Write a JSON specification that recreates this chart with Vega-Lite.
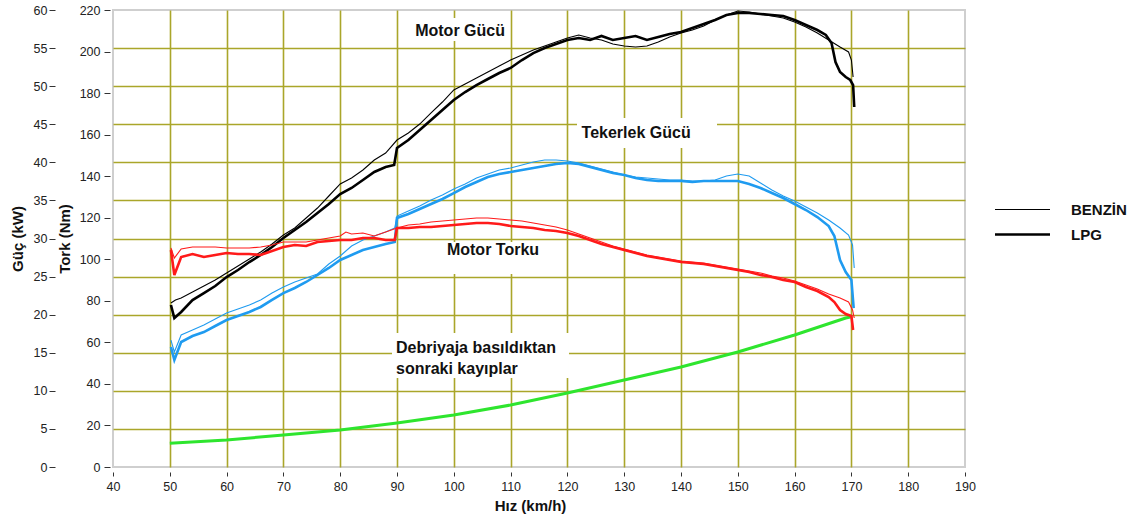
{
 "$schema": "https://vega.github.io/schema/vega-lite/v6.json",
 "width": 852,
 "height": 457,
 "autosize": {"type": "none"},
 "padding": {"left": 113, "top": 10, "right": 172, "bottom": 53},
 "background": "white",
 "config": {
  "font": "Liberation Sans",
  "view": {"stroke": "#cfcfcf", "strokeWidth": 2},
  "axis": {
   "labelFont": "Liberation Sans", "labelFontSize": 12.5, "labelColor": "#222",
   "tickColor": "#333", "tickWidth": 1,
   "titleFont": "Liberation Sans", "titleFontWeight": "bold", "titleFontSize": 15, "titleColor": "#111",
   "domain": false, "gridColor": "#aaa62a", "gridWidth": 1.6
  }
 },
 "datasets": {
  "guc": [
   {"v":50.2,"kW":21.27,"egri":"Motor Gücü","yakit":"LPG"},{"v":50.8,"kW":19.56,"egri":"Motor Gücü","yakit":"LPG"},{"v":52,"kW":20.35,"egri":"Motor Gücü","yakit":"LPG"},{"v":54,"kW":21.92,"egri":"Motor Gücü","yakit":"LPG"},{"v":56,"kW":22.84,"egri":"Motor Gücü","yakit":"LPG"},{"v":58,"kW":23.76,"egri":"Motor Gücü","yakit":"LPG"},{"v":60,"kW":24.94,"egri":"Motor Gücü","yakit":"LPG"},{"v":62,"kW":25.86,"egri":"Motor Gücü","yakit":"LPG"},{"v":64,"kW":26.91,"egri":"Motor Gücü","yakit":"LPG"},{"v":66,"kW":27.83,"egri":"Motor Gücü","yakit":"LPG"},{"v":68,"kW":28.88,"egri":"Motor Gücü","yakit":"LPG"},{"v":70,"kW":30.07,"egri":"Motor Gücü","yakit":"LPG"},{"v":72,"kW":31.12,"egri":"Motor Gücü","yakit":"LPG"},{"v":74,"kW":32.17,"egri":"Motor Gücü","yakit":"LPG"},{"v":76,"kW":33.35,"egri":"Motor Gücü","yakit":"LPG"},{"v":78,"kW":34.53,"egri":"Motor Gücü","yakit":"LPG"},{"v":80,"kW":35.84,"egri":"Motor Gücü","yakit":"LPG"},{"v":82,"kW":36.63,"egri":"Motor Gücü","yakit":"LPG"},{"v":84,"kW":37.68,"egri":"Motor Gücü","yakit":"LPG"},{"v":86,"kW":38.73,"egri":"Motor Gücü","yakit":"LPG"},{"v":88,"kW":39.39,"egri":"Motor Gücü","yakit":"LPG"},{"v":89.5,"kW":39.65,"egri":"Motor Gücü","yakit":"LPG"},{"v":90,"kW":41.88,"egri":"Motor Gücü","yakit":"LPG"},{"v":92,"kW":42.93,"egri":"Motor Gücü","yakit":"LPG"},{"v":94,"kW":44.25,"egri":"Motor Gücü","yakit":"LPG"},{"v":96,"kW":45.56,"egri":"Motor Gücü","yakit":"LPG"},{"v":98,"kW":46.87,"egri":"Motor Gücü","yakit":"LPG"},{"v":100,"kW":48.18,"egri":"Motor Gücü","yakit":"LPG"},{"v":102,"kW":49.23,"egri":"Motor Gücü","yakit":"LPG"},{"v":104,"kW":50.15,"egri":"Motor Gücü","yakit":"LPG"},{"v":106,"kW":50.94,"egri":"Motor Gücü","yakit":"LPG"},{"v":108,"kW":51.73,"egri":"Motor Gücü","yakit":"LPG"},{"v":110,"kW":52.39,"egri":"Motor Gücü","yakit":"LPG"},{"v":112,"kW":53.43,"egri":"Motor Gücü","yakit":"LPG"},{"v":114,"kW":54.35,"egri":"Motor Gücü","yakit":"LPG"},{"v":116,"kW":55.01,"egri":"Motor Gücü","yakit":"LPG"},{"v":118,"kW":55.53,"egri":"Motor Gücü","yakit":"LPG"},{"v":120,"kW":56.06,"egri":"Motor Gücü","yakit":"LPG"},{"v":122,"kW":56.32,"egri":"Motor Gücü","yakit":"LPG"},{"v":124,"kW":56.06,"egri":"Motor Gücü","yakit":"LPG"},{"v":126,"kW":56.59,"egri":"Motor Gücü","yakit":"LPG"},{"v":128,"kW":56.06,"egri":"Motor Gücü","yakit":"LPG"},{"v":130,"kW":56.32,"egri":"Motor Gücü","yakit":"LPG"},{"v":132,"kW":56.59,"egri":"Motor Gücü","yakit":"LPG"},{"v":134,"kW":56.06,"egri":"Motor Gücü","yakit":"LPG"},{"v":136,"kW":56.45,"egri":"Motor Gücü","yakit":"LPG"},{"v":138,"kW":56.85,"egri":"Motor Gücü","yakit":"LPG"},{"v":140,"kW":57.11,"egri":"Motor Gücü","yakit":"LPG"},{"v":142,"kW":57.64,"egri":"Motor Gücü","yakit":"LPG"},{"v":144,"kW":58.16,"egri":"Motor Gücü","yakit":"LPG"},{"v":146,"kW":58.69,"egri":"Motor Gücü","yakit":"LPG"},{"v":148,"kW":59.34,"egri":"Motor Gücü","yakit":"LPG"},{"v":150,"kW":59.61,"egri":"Motor Gücü","yakit":"LPG"},{"v":152,"kW":59.61,"egri":"Motor Gücü","yakit":"LPG"},{"v":154,"kW":59.47,"egri":"Motor Gücü","yakit":"LPG"},{"v":156,"kW":59.34,"egri":"Motor Gücü","yakit":"LPG"},{"v":158,"kW":59.21,"egri":"Motor Gücü","yakit":"LPG"},{"v":160,"kW":58.69,"egri":"Motor Gücü","yakit":"LPG"},{"v":162,"kW":58.03,"egri":"Motor Gücü","yakit":"LPG"},{"v":164,"kW":57.37,"egri":"Motor Gücü","yakit":"LPG"},{"v":165.5,"kW":56.72,"egri":"Motor Gücü","yakit":"LPG"},{"v":166.5,"kW":55.67,"egri":"Motor Gücü","yakit":"LPG"},{"v":167.2,"kW":53.17,"egri":"Motor Gücü","yakit":"LPG"},{"v":168,"kW":51.86,"egri":"Motor Gücü","yakit":"LPG"},{"v":169,"kW":51.2,"egri":"Motor Gücü","yakit":"LPG"},{"v":169.8,"kW":50.81,"egri":"Motor Gücü","yakit":"LPG"},{"v":170.3,"kW":50.15,"egri":"Motor Gücü","yakit":"LPG"},{"v":170.5,"kW":47.26,"egri":"Motor Gücü","yakit":"LPG"},

   {"v":50.2,"kW":21.53,"egri":"Motor Gücü","yakit":"BENZİN"},{"v":51,"kW":21.92,"egri":"Motor Gücü","yakit":"BENZİN"},{"v":52,"kW":22.19,"egri":"Motor Gücü","yakit":"BENZİN"},{"v":54,"kW":22.98,"egri":"Motor Gücü","yakit":"BENZİN"},{"v":56,"kW":23.76,"egri":"Motor Gücü","yakit":"BENZİN"},{"v":58,"kW":24.55,"egri":"Motor Gücü","yakit":"BENZİN"},{"v":60,"kW":25.47,"egri":"Motor Gücü","yakit":"BENZİN"},{"v":62,"kW":26.39,"egri":"Motor Gücü","yakit":"BENZİN"},{"v":64,"kW":27.31,"egri":"Motor Gücü","yakit":"BENZİN"},{"v":66,"kW":28.23,"egri":"Motor Gücü","yakit":"BENZİN"},{"v":68,"kW":29.28,"egri":"Motor Gücü","yakit":"BENZİN"},{"v":70,"kW":30.46,"egri":"Motor Gücü","yakit":"BENZİN"},{"v":72,"kW":31.38,"egri":"Motor Gücü","yakit":"BENZİN"},{"v":74,"kW":32.69,"egri":"Motor Gücü","yakit":"BENZİN"},{"v":76,"kW":34.0,"egri":"Motor Gücü","yakit":"BENZİN"},{"v":78,"kW":35.58,"egri":"Motor Gücü","yakit":"BENZİN"},{"v":80,"kW":37.16,"egri":"Motor Gücü","yakit":"BENZİN"},{"v":82,"kW":37.94,"egri":"Motor Gücü","yakit":"BENZİN"},{"v":84,"kW":38.99,"egri":"Motor Gücü","yakit":"BENZİN"},{"v":86,"kW":40.31,"egri":"Motor Gücü","yakit":"BENZİN"},{"v":88,"kW":41.22,"egri":"Motor Gücü","yakit":"BENZİN"},{"v":90,"kW":42.93,"egri":"Motor Gücü","yakit":"BENZİN"},{"v":92,"kW":43.85,"egri":"Motor Gücü","yakit":"BENZİN"},{"v":94,"kW":45.03,"egri":"Motor Gücü","yakit":"BENZİN"},{"v":96,"kW":46.48,"egri":"Motor Gücü","yakit":"BENZİN"},{"v":98,"kW":47.92,"egri":"Motor Gücü","yakit":"BENZİN"},{"v":100,"kW":49.5,"egri":"Motor Gücü","yakit":"BENZİN"},{"v":102,"kW":50.28,"egri":"Motor Gücü","yakit":"BENZİN"},{"v":104,"kW":51.07,"egri":"Motor Gücü","yakit":"BENZİN"},{"v":106,"kW":51.86,"egri":"Motor Gücü","yakit":"BENZİN"},{"v":108,"kW":52.65,"egri":"Motor Gücü","yakit":"BENZİN"},{"v":110,"kW":53.43,"egri":"Motor Gücü","yakit":"BENZİN"},{"v":112,"kW":54.09,"egri":"Motor Gücü","yakit":"BENZİN"},{"v":114,"kW":54.75,"egri":"Motor Gücü","yakit":"BENZİN"},{"v":116,"kW":55.27,"egri":"Motor Gücü","yakit":"BENZİN"},{"v":118,"kW":55.8,"egri":"Motor Gücü","yakit":"BENZİN"},{"v":120,"kW":56.32,"egri":"Motor Gücü","yakit":"BENZİN"},{"v":122,"kW":56.72,"egri":"Motor Gücü","yakit":"BENZİN"},{"v":124,"kW":56.32,"egri":"Motor Gücü","yakit":"BENZİN"},{"v":126,"kW":56.06,"egri":"Motor Gücü","yakit":"BENZİN"},{"v":128,"kW":55.53,"egri":"Motor Gücü","yakit":"BENZİN"},{"v":130,"kW":55.27,"egri":"Motor Gücü","yakit":"BENZİN"},{"v":132,"kW":55.14,"egri":"Motor Gücü","yakit":"BENZİN"},{"v":134,"kW":55.27,"egri":"Motor Gücü","yakit":"BENZİN"},{"v":136,"kW":55.8,"egri":"Motor Gücü","yakit":"BENZİN"},{"v":138,"kW":56.45,"egri":"Motor Gücü","yakit":"BENZİN"},{"v":140,"kW":56.98,"egri":"Motor Gücü","yakit":"BENZİN"},{"v":142,"kW":57.37,"egri":"Motor Gücü","yakit":"BENZİN"},{"v":144,"kW":57.9,"egri":"Motor Gücü","yakit":"BENZİN"},{"v":146,"kW":58.69,"egri":"Motor Gücü","yakit":"BENZİN"},{"v":148,"kW":59.34,"egri":"Motor Gücü","yakit":"BENZİN"},{"v":150,"kW":59.87,"egri":"Motor Gücü","yakit":"BENZİN"},{"v":152,"kW":59.74,"egri":"Motor Gücü","yakit":"BENZİN"},{"v":154,"kW":59.47,"egri":"Motor Gücü","yakit":"BENZİN"},{"v":156,"kW":59.21,"egri":"Motor Gücü","yakit":"BENZİN"},{"v":158,"kW":58.95,"egri":"Motor Gücü","yakit":"BENZİN"},{"v":160,"kW":58.42,"egri":"Motor Gücü","yakit":"BENZİN"},{"v":162,"kW":57.77,"egri":"Motor Gücü","yakit":"BENZİN"},{"v":164,"kW":56.98,"egri":"Motor Gücü","yakit":"BENZİN"},{"v":166,"kW":56.06,"egri":"Motor Gücü","yakit":"BENZİN"},{"v":168,"kW":55.14,"egri":"Motor Gücü","yakit":"BENZİN"},{"v":169.5,"kW":54.49,"egri":"Motor Gücü","yakit":"BENZİN"},{"v":170,"kW":53.43,"egri":"Motor Gücü","yakit":"BENZİN"},{"v":170.3,"kW":51.2,"egri":"Motor Gücü","yakit":"BENZİN"},

   {"v":50.2,"kW":15.75,"egri":"Tekerlek Gücü","yakit":"LPG"},{"v":50.8,"kW":14.05,"egri":"Tekerlek Gücü","yakit":"LPG"},{"v":52,"kW":16.41,"egri":"Tekerlek Gücü","yakit":"LPG"},{"v":54,"kW":17.2,"egri":"Tekerlek Gücü","yakit":"LPG"},{"v":56,"kW":17.72,"egri":"Tekerlek Gücü","yakit":"LPG"},{"v":58,"kW":18.51,"egri":"Tekerlek Gücü","yakit":"LPG"},{"v":60,"kW":19.3,"egri":"Tekerlek Gücü","yakit":"LPG"},{"v":62,"kW":19.82,"egri":"Tekerlek Gücü","yakit":"LPG"},{"v":64,"kW":20.35,"egri":"Tekerlek Gücü","yakit":"LPG"},{"v":66,"kW":21.01,"egri":"Tekerlek Gücü","yakit":"LPG"},{"v":68,"kW":21.93,"egri":"Tekerlek Gücü","yakit":"LPG"},{"v":70,"kW":22.84,"egri":"Tekerlek Gücü","yakit":"LPG"},{"v":72,"kW":23.5,"egri":"Tekerlek Gücü","yakit":"LPG"},{"v":74,"kW":24.29,"egri":"Tekerlek Gücü","yakit":"LPG"},{"v":76,"kW":25.21,"egri":"Tekerlek Gücü","yakit":"LPG"},{"v":78,"kW":26.13,"egri":"Tekerlek Gücü","yakit":"LPG"},{"v":80,"kW":27.18,"egri":"Tekerlek Gücü","yakit":"LPG"},{"v":82,"kW":27.83,"egri":"Tekerlek Gücü","yakit":"LPG"},{"v":84,"kW":28.49,"egri":"Tekerlek Gücü","yakit":"LPG"},{"v":86,"kW":28.88,"egri":"Tekerlek Gücü","yakit":"LPG"},{"v":88,"kW":29.28,"egri":"Tekerlek Gücü","yakit":"LPG"},{"v":89.6,"kW":29.54,"egri":"Tekerlek Gücü","yakit":"LPG"},{"v":90,"kW":32.69,"egri":"Tekerlek Gücü","yakit":"LPG"},{"v":92,"kW":33.22,"egri":"Tekerlek Gücü","yakit":"LPG"},{"v":94,"kW":33.87,"egri":"Tekerlek Gücü","yakit":"LPG"},{"v":96,"kW":34.53,"egri":"Tekerlek Gücü","yakit":"LPG"},{"v":98,"kW":35.19,"egri":"Tekerlek Gücü","yakit":"LPG"},{"v":100,"kW":35.97,"egri":"Tekerlek Gücü","yakit":"LPG"},{"v":102,"kW":36.76,"egri":"Tekerlek Gücü","yakit":"LPG"},{"v":104,"kW":37.42,"egri":"Tekerlek Gücü","yakit":"LPG"},{"v":106,"kW":38.07,"egri":"Tekerlek Gücü","yakit":"LPG"},{"v":108,"kW":38.47,"egri":"Tekerlek Gücü","yakit":"LPG"},{"v":110,"kW":38.73,"egri":"Tekerlek Gücü","yakit":"LPG"},{"v":112,"kW":38.99,"egri":"Tekerlek Gücü","yakit":"LPG"},{"v":114,"kW":39.26,"egri":"Tekerlek Gücü","yakit":"LPG"},{"v":116,"kW":39.52,"egri":"Tekerlek Gücü","yakit":"LPG"},{"v":118,"kW":39.78,"egri":"Tekerlek Gücü","yakit":"LPG"},{"v":120,"kW":39.91,"egri":"Tekerlek Gücü","yakit":"LPG"},{"v":122,"kW":39.78,"egri":"Tekerlek Gücü","yakit":"LPG"},{"v":124,"kW":39.39,"egri":"Tekerlek Gücü","yakit":"LPG"},{"v":126,"kW":38.99,"egri":"Tekerlek Gücü","yakit":"LPG"},{"v":128,"kW":38.6,"egri":"Tekerlek Gücü","yakit":"LPG"},{"v":130,"kW":38.34,"egri":"Tekerlek Gücü","yakit":"LPG"},{"v":132,"kW":37.94,"egri":"Tekerlek Gücü","yakit":"LPG"},{"v":134,"kW":37.68,"egri":"Tekerlek Gücü","yakit":"LPG"},{"v":136,"kW":37.55,"egri":"Tekerlek Gücü","yakit":"LPG"},{"v":138,"kW":37.55,"egri":"Tekerlek Gücü","yakit":"LPG"},{"v":140,"kW":37.55,"egri":"Tekerlek Gücü","yakit":"LPG"},{"v":142,"kW":37.42,"egri":"Tekerlek Gücü","yakit":"LPG"},{"v":144,"kW":37.55,"egri":"Tekerlek Gücü","yakit":"LPG"},{"v":146,"kW":37.55,"egri":"Tekerlek Gücü","yakit":"LPG"},{"v":148,"kW":37.55,"egri":"Tekerlek Gücü","yakit":"LPG"},{"v":150,"kW":37.55,"egri":"Tekerlek Gücü","yakit":"LPG"},{"v":152,"kW":37.16,"egri":"Tekerlek Gücü","yakit":"LPG"},{"v":154,"kW":36.63,"egri":"Tekerlek Gücü","yakit":"LPG"},{"v":156,"kW":35.97,"egri":"Tekerlek Gücü","yakit":"LPG"},{"v":158,"kW":35.32,"egri":"Tekerlek Gücü","yakit":"LPG"},{"v":160,"kW":34.53,"egri":"Tekerlek Gücü","yakit":"LPG"},{"v":162,"kW":33.74,"egri":"Tekerlek Gücü","yakit":"LPG"},{"v":164,"kW":32.82,"egri":"Tekerlek Gücü","yakit":"LPG"},{"v":166,"kW":31.64,"egri":"Tekerlek Gücü","yakit":"LPG"},{"v":167,"kW":30.33,"egri":"Tekerlek Gücü","yakit":"LPG"},{"v":168,"kW":27.18,"egri":"Tekerlek Gücü","yakit":"LPG"},{"v":169,"kW":25.6,"egri":"Tekerlek Gücü","yakit":"LPG"},{"v":170,"kW":24.55,"egri":"Tekerlek Gücü","yakit":"LPG"},{"v":170.4,"kW":20.87,"egri":"Tekerlek Gücü","yakit":"LPG"},

   {"v":50.2,"kW":16.67,"egri":"Tekerlek Gücü","yakit":"BENZİN"},{"v":50.8,"kW":15.1,"egri":"Tekerlek Gücü","yakit":"BENZİN"},{"v":52,"kW":17.33,"egri":"Tekerlek Gücü","yakit":"BENZİN"},{"v":54,"kW":17.99,"egri":"Tekerlek Gücü","yakit":"BENZİN"},{"v":56,"kW":18.64,"egri":"Tekerlek Gücü","yakit":"BENZİN"},{"v":58,"kW":19.43,"egri":"Tekerlek Gücü","yakit":"BENZİN"},{"v":60,"kW":20.22,"egri":"Tekerlek Gücü","yakit":"BENZİN"},{"v":62,"kW":20.74,"egri":"Tekerlek Gücü","yakit":"BENZİN"},{"v":64,"kW":21.27,"egri":"Tekerlek Gücü","yakit":"BENZİN"},{"v":66,"kW":21.93,"egri":"Tekerlek Gücü","yakit":"BENZİN"},{"v":68,"kW":22.84,"egri":"Tekerlek Gücü","yakit":"BENZİN"},{"v":70,"kW":23.63,"egri":"Tekerlek Gücü","yakit":"BENZİN"},{"v":72,"kW":24.29,"egri":"Tekerlek Gücü","yakit":"BENZİN"},{"v":74,"kW":24.81,"egri":"Tekerlek Gücü","yakit":"BENZİN"},{"v":76,"kW":25.34,"egri":"Tekerlek Gücü","yakit":"BENZİN"},{"v":78,"kW":26.65,"egri":"Tekerlek Gücü","yakit":"BENZİN"},{"v":80,"kW":27.7,"egri":"Tekerlek Gücü","yakit":"BENZİN"},{"v":82,"kW":29.02,"egri":"Tekerlek Gücü","yakit":"BENZİN"},{"v":84,"kW":29.8,"egri":"Tekerlek Gücü","yakit":"BENZİN"},{"v":86,"kW":30.33,"egri":"Tekerlek Gücü","yakit":"BENZİN"},{"v":88,"kW":30.85,"egri":"Tekerlek Gücü","yakit":"BENZİN"},{"v":89.6,"kW":31.38,"egri":"Tekerlek Gücü","yakit":"BENZİN"},{"v":90,"kW":32.95,"egri":"Tekerlek Gücü","yakit":"BENZİN"},{"v":92,"kW":33.61,"egri":"Tekerlek Gücü","yakit":"BENZİN"},{"v":94,"kW":34.27,"egri":"Tekerlek Gücü","yakit":"BENZİN"},{"v":96,"kW":35.05,"egri":"Tekerlek Gücü","yakit":"BENZİN"},{"v":98,"kW":35.71,"egri":"Tekerlek Gücü","yakit":"BENZİN"},{"v":100,"kW":36.5,"egri":"Tekerlek Gücü","yakit":"BENZİN"},{"v":102,"kW":37.16,"egri":"Tekerlek Gücü","yakit":"BENZİN"},{"v":104,"kW":37.94,"egri":"Tekerlek Gücü","yakit":"BENZİN"},{"v":106,"kW":38.47,"egri":"Tekerlek Gücü","yakit":"BENZİN"},{"v":108,"kW":38.99,"egri":"Tekerlek Gücü","yakit":"BENZİN"},{"v":110,"kW":39.26,"egri":"Tekerlek Gücü","yakit":"BENZİN"},{"v":112,"kW":39.65,"egri":"Tekerlek Gücü","yakit":"BENZİN"},{"v":114,"kW":40.04,"egri":"Tekerlek Gücü","yakit":"BENZİN"},{"v":116,"kW":40.31,"egri":"Tekerlek Gücü","yakit":"BENZİN"},{"v":118,"kW":40.31,"egri":"Tekerlek Gücü","yakit":"BENZİN"},{"v":120,"kW":40.17,"egri":"Tekerlek Gücü","yakit":"BENZİN"},{"v":122,"kW":39.91,"egri":"Tekerlek Gücü","yakit":"BENZİN"},{"v":124,"kW":39.52,"egri":"Tekerlek Gücü","yakit":"BENZİN"},{"v":126,"kW":39.12,"egri":"Tekerlek Gücü","yakit":"BENZİN"},{"v":128,"kW":38.73,"egri":"Tekerlek Gücü","yakit":"BENZİN"},{"v":130,"kW":38.34,"egri":"Tekerlek Gücü","yakit":"BENZİN"},{"v":132,"kW":38.07,"egri":"Tekerlek Gücü","yakit":"BENZİN"},{"v":134,"kW":37.94,"egri":"Tekerlek Gücü","yakit":"BENZİN"},{"v":136,"kW":37.81,"egri":"Tekerlek Gücü","yakit":"BENZİN"},{"v":138,"kW":37.68,"egri":"Tekerlek Gücü","yakit":"BENZİN"},{"v":140,"kW":37.68,"egri":"Tekerlek Gücü","yakit":"BENZİN"},{"v":142,"kW":37.55,"egri":"Tekerlek Gücü","yakit":"BENZİN"},{"v":144,"kW":37.55,"egri":"Tekerlek Gücü","yakit":"BENZİN"},{"v":146,"kW":37.68,"egri":"Tekerlek Gücü","yakit":"BENZİN"},{"v":148,"kW":38.21,"egri":"Tekerlek Gücü","yakit":"BENZİN"},{"v":150,"kW":38.47,"egri":"Tekerlek Gücü","yakit":"BENZİN"},{"v":152,"kW":38.21,"egri":"Tekerlek Gücü","yakit":"BENZİN"},{"v":154,"kW":37.29,"egri":"Tekerlek Gücü","yakit":"BENZİN"},{"v":156,"kW":36.37,"egri":"Tekerlek Gücü","yakit":"BENZİN"},{"v":158,"kW":35.58,"egri":"Tekerlek Gücü","yakit":"BENZİN"},{"v":160,"kW":34.92,"egri":"Tekerlek Gücü","yakit":"BENZİN"},{"v":162,"kW":34.14,"egri":"Tekerlek Gücü","yakit":"BENZİN"},{"v":164,"kW":33.35,"egri":"Tekerlek Gücü","yakit":"BENZİN"},{"v":166,"kW":32.43,"egri":"Tekerlek Gücü","yakit":"BENZİN"},{"v":168,"kW":31.38,"egri":"Tekerlek Gücü","yakit":"BENZİN"},{"v":169.5,"kW":30.46,"egri":"Tekerlek Gücü","yakit":"BENZİN"},{"v":170.2,"kW":29.15,"egri":"Tekerlek Gücü","yakit":"BENZİN"},{"v":170.5,"kW":26.13,"egri":"Tekerlek Gücü","yakit":"BENZİN"}
  ],
  "tork": [
   {"v":50.2,"Nm":104.46,"yakit":"LPG"},{"v":50.8,"Nm":92.43,"yakit":"LPG"},{"v":52,"Nm":101.09,"yakit":"LPG"},{"v":54,"Nm":102.54,"yakit":"LPG"},{"v":56,"Nm":101.09,"yakit":"LPG"},{"v":58,"Nm":102.06,"yakit":"LPG"},{"v":60,"Nm":103.02,"yakit":"LPG"},{"v":62,"Nm":102.54,"yakit":"LPG"},{"v":64,"Nm":102.54,"yakit":"LPG"},{"v":66,"Nm":102.06,"yakit":"LPG"},{"v":68,"Nm":103.98,"yakit":"LPG"},{"v":70,"Nm":105.91,"yakit":"LPG"},{"v":72,"Nm":106.87,"yakit":"LPG"},{"v":74,"Nm":106.39,"yakit":"LPG"},{"v":76,"Nm":108.32,"yakit":"LPG"},{"v":78,"Nm":108.8,"yakit":"LPG"},{"v":80,"Nm":109.28,"yakit":"LPG"},{"v":82,"Nm":109.28,"yakit":"LPG"},{"v":84,"Nm":110.24,"yakit":"LPG"},{"v":86,"Nm":110.24,"yakit":"LPG"},{"v":88,"Nm":109.28,"yakit":"LPG"},{"v":89.6,"Nm":109.28,"yakit":"LPG"},{"v":90,"Nm":115.05,"yakit":"LPG"},{"v":92,"Nm":115.05,"yakit":"LPG"},{"v":94,"Nm":115.54,"yakit":"LPG"},{"v":96,"Nm":115.54,"yakit":"LPG"},{"v":98,"Nm":116.02,"yakit":"LPG"},{"v":100,"Nm":116.5,"yakit":"LPG"},{"v":102,"Nm":116.98,"yakit":"LPG"},{"v":104,"Nm":117.46,"yakit":"LPG"},{"v":106,"Nm":117.46,"yakit":"LPG"},{"v":108,"Nm":116.98,"yakit":"LPG"},{"v":110,"Nm":116.02,"yakit":"LPG"},{"v":112,"Nm":115.54,"yakit":"LPG"},{"v":114,"Nm":115.05,"yakit":"LPG"},{"v":116,"Nm":114.09,"yakit":"LPG"},{"v":118,"Nm":113.61,"yakit":"LPG"},{"v":120,"Nm":112.65,"yakit":"LPG"},{"v":122,"Nm":111.2,"yakit":"LPG"},{"v":124,"Nm":109.28,"yakit":"LPG"},{"v":126,"Nm":107.35,"yakit":"LPG"},{"v":128,"Nm":105.91,"yakit":"LPG"},{"v":130,"Nm":104.46,"yakit":"LPG"},{"v":132,"Nm":103.02,"yakit":"LPG"},{"v":134,"Nm":101.58,"yakit":"LPG"},{"v":136,"Nm":100.61,"yakit":"LPG"},{"v":138,"Nm":99.65,"yakit":"LPG"},{"v":140,"Nm":98.69,"yakit":"LPG"},{"v":142,"Nm":98.21,"yakit":"LPG"},{"v":144,"Nm":97.72,"yakit":"LPG"},{"v":146,"Nm":96.76,"yakit":"LPG"},{"v":148,"Nm":95.8,"yakit":"LPG"},{"v":150,"Nm":94.84,"yakit":"LPG"},{"v":152,"Nm":93.87,"yakit":"LPG"},{"v":154,"Nm":92.43,"yakit":"LPG"},{"v":156,"Nm":91.47,"yakit":"LPG"},{"v":158,"Nm":90.02,"yakit":"LPG"},{"v":160,"Nm":89.06,"yakit":"LPG"},{"v":162,"Nm":86.65,"yakit":"LPG"},{"v":164,"Nm":84.73,"yakit":"LPG"},{"v":166,"Nm":81.84,"yakit":"LPG"},{"v":167,"Nm":79.43,"yakit":"LPG"},{"v":168,"Nm":75.58,"yakit":"LPG"},{"v":169,"Nm":73.65,"yakit":"LPG"},{"v":170,"Nm":72.69,"yakit":"LPG"},{"v":170.3,"Nm":65.95,"yakit":"LPG"},

   {"v":50.2,"Nm":105.43,"yakit":"BENZİN"},{"v":50.8,"Nm":100.61,"yakit":"BENZİN"},{"v":52,"Nm":104.95,"yakit":"BENZİN"},{"v":54,"Nm":105.91,"yakit":"BENZİN"},{"v":56,"Nm":105.91,"yakit":"BENZİN"},{"v":58,"Nm":105.91,"yakit":"BENZİN"},{"v":60,"Nm":105.43,"yakit":"BENZİN"},{"v":62,"Nm":105.43,"yakit":"BENZİN"},{"v":64,"Nm":105.43,"yakit":"BENZİN"},{"v":66,"Nm":105.91,"yakit":"BENZİN"},{"v":68,"Nm":106.87,"yakit":"BENZİN"},{"v":70,"Nm":108.32,"yakit":"BENZİN"},{"v":72,"Nm":108.32,"yakit":"BENZİN"},{"v":74,"Nm":108.32,"yakit":"BENZİN"},{"v":76,"Nm":109.28,"yakit":"BENZİN"},{"v":78,"Nm":110.24,"yakit":"BENZİN"},{"v":80,"Nm":111.2,"yakit":"BENZİN"},{"v":81,"Nm":113.13,"yakit":"BENZİN"},{"v":82,"Nm":112.17,"yakit":"BENZİN"},{"v":84,"Nm":112.65,"yakit":"BENZİN"},{"v":86,"Nm":111.2,"yakit":"BENZİN"},{"v":88,"Nm":113.13,"yakit":"BENZİN"},{"v":90,"Nm":115.05,"yakit":"BENZİN"},{"v":92,"Nm":116.5,"yakit":"BENZİN"},{"v":94,"Nm":116.98,"yakit":"BENZİN"},{"v":96,"Nm":117.94,"yakit":"BENZİN"},{"v":98,"Nm":118.42,"yakit":"BENZİN"},{"v":100,"Nm":118.91,"yakit":"BENZİN"},{"v":102,"Nm":119.39,"yakit":"BENZİN"},{"v":104,"Nm":119.87,"yakit":"BENZİN"},{"v":106,"Nm":119.87,"yakit":"BENZİN"},{"v":108,"Nm":119.39,"yakit":"BENZİN"},{"v":110,"Nm":118.91,"yakit":"BENZİN"},{"v":112,"Nm":118.42,"yakit":"BENZİN"},{"v":114,"Nm":117.46,"yakit":"BENZİN"},{"v":116,"Nm":116.5,"yakit":"BENZİN"},{"v":118,"Nm":115.54,"yakit":"BENZİN"},{"v":120,"Nm":114.09,"yakit":"BENZİN"},{"v":122,"Nm":112.17,"yakit":"BENZİN"},{"v":124,"Nm":110.24,"yakit":"BENZİN"},{"v":126,"Nm":108.32,"yakit":"BENZİN"},{"v":128,"Nm":106.39,"yakit":"BENZİN"},{"v":130,"Nm":104.95,"yakit":"BENZİN"},{"v":132,"Nm":103.5,"yakit":"BENZİN"},{"v":134,"Nm":102.06,"yakit":"BENZİN"},{"v":136,"Nm":101.09,"yakit":"BENZİN"},{"v":138,"Nm":100.13,"yakit":"BENZİN"},{"v":140,"Nm":99.17,"yakit":"BENZİN"},{"v":142,"Nm":98.69,"yakit":"BENZİN"},{"v":144,"Nm":98.21,"yakit":"BENZİN"},{"v":146,"Nm":97.24,"yakit":"BENZİN"},{"v":148,"Nm":96.28,"yakit":"BENZİN"},{"v":150,"Nm":95.32,"yakit":"BENZİN"},{"v":152,"Nm":94.35,"yakit":"BENZİN"},{"v":154,"Nm":93.39,"yakit":"BENZİN"},{"v":156,"Nm":91.95,"yakit":"BENZİN"},{"v":158,"Nm":90.98,"yakit":"BENZİN"},{"v":160,"Nm":89.54,"yakit":"BENZİN"},{"v":162,"Nm":87.61,"yakit":"BENZİN"},{"v":164,"Nm":85.69,"yakit":"BENZİN"},{"v":166,"Nm":83.28,"yakit":"BENZİN"},{"v":168,"Nm":81.36,"yakit":"BENZİN"},{"v":169.5,"Nm":79.43,"yakit":"BENZİN"},{"v":170.2,"Nm":75.58,"yakit":"BENZİN"},{"v":170.5,"Nm":71.73,"yakit":"BENZİN"}
  ],
  "kayip": [
   {"v":50,"kW":3.11},{"v":60,"kW":3.54},{"v":70,"kW":4.2},{"v":80,"kW":4.86},{"v":90,"kW":5.78},{"v":100,"kW":6.83},{"v":110,"kW":8.14},{"v":120,"kW":9.72},{"v":130,"kW":11.42},{"v":140,"kW":13.13},{"v":150,"kW":15.1},{"v":160,"kW":17.33},{"v":169,"kW":19.56},{"v":170,"kW":19.73}
  ],
  "kutu": [
   {"v":91.94,"v2":109.54,"kW":58.95,"kW2":55.93},
   {"v":121.69,"v2":146.34,"kW":45.82,"kW2":41.88},
   {"v":97.57,"v2":116.58,"kW":29.54,"kW2":25.34},
   {"v":89.12,"v2":120.28,"kW":17.59,"kW2":11.68}
  ],
  "etiketOrta": [
   {"v":101.1,"kW":57.18,"t":"Motor Gücü"},
   {"v":132.1,"kW":43.79,"t":"Tekerlek Gücü"},
   {"v":106.9,"kW":28.49,"t":"Motor Torku"}
  ],
  "etiketSol": [
   {"v":89.82,"kW":15.56,"t":"Debriyaja basıldıktan"},
   {"v":89.82,"kW":12.87,"t":"sonraki kayıplar"}
  ]
 },
 "encoding": {
  "x": {
   "field": "v", "type": "quantitative",
   "scale": {"domain": [40, 190], "nice": false, "zero": false},
   "axis": {
    "title": "Hız (km/h)",
    "values": [40,50,60,70,80,90,100,110,120,130,140,150,160,170,180,190],
    "offset": 5, "tickSize": 4, "labelPadding": 4, "labelFlush": false, "labelOverlap": false,
    "grid": true,
    "gridOpacity": {"condition": {"test": "datum.value == 40 || datum.value == 190", "value": 0}, "value": 1},
    "titleX": 417, "titlePadding": 6
   }
  }
 },
 "layer": [
  {
   "encoding": {
    "y": {
     "field": "kW", "type": "quantitative",
     "scale": {"domain": [0, 60], "nice": false},
     "axis": {
      "title": "Güç (kW)", "orient": "left", "offset": 58,
      "values": [0,5,10,15,20,25,30,35,40,45,50,55,60],
      "tickSize": 6, "labelPadding": 2, "labelOverlap": false,
      "grid": true,
      "gridOpacity": {"condition": {"test": "datum.value == 0 || datum.value == 60", "value": 0}, "value": 1},
      "titlePadding": 8
     }
    }
   },
   "layer": [
    {
     "data": {"name": "kutu"},
     "mark": {"type": "rect", "color": "white"},
     "encoding": {
      "x2": {"field": "v2"},
      "y2": {"field": "kW2"}
     }
    },
    {
     "data": {"name": "guc"},
     "mark": {"type": "line"},
     "encoding": {
      "color": {
       "field": "egri", "type": "nominal",
       "scale": {"domain": ["Motor Gücü", "Tekerlek Gücü"], "range": ["#000000", "#1f9bf0"]},
       "legend": null
      },
      "strokeWidth": {
       "field": "yakit", "type": "nominal",
       "scale": {"domain": ["BENZİN", "LPG"], "range": [1.1, 2.6]},
       "legend": {
        "orient": "none", "legendX": 902, "legendY": 192, "title": null,
        "symbolType": "M-5,0H5", "symbolSize": 121, "symbolStrokeColor": "#000",
        "labelFont": "Liberation Sans", "labelFontWeight": "bold", "labelFontSize": 15, "labelColor": "#111",
        "labelOffset": 41, "rowPadding": 9, "padding": 0
       }
      }
     }
    },
    {
     "data": {"name": "kayip"},
     "mark": {"type": "line", "color": "#2ee52e", "strokeWidth": 3}
    },
    {
     "data": {"name": "etiketOrta"},
     "mark": {"type": "text", "font": "Liberation Sans", "fontWeight": "bold", "fontSize": 16, "align": "center", "baseline": "middle", "color": "#111"},
     "encoding": {"text": {"field": "t"}}
    },
    {
     "data": {"name": "etiketSol"},
     "mark": {"type": "text", "font": "Liberation Sans", "fontWeight": "bold", "fontSize": 16, "align": "left", "baseline": "middle", "color": "#111"},
     "encoding": {"text": {"field": "t"}}
    }
   ]
  },
  {
   "data": {"name": "tork"},
   "mark": {"type": "line", "color": "#ff1a1a"},
   "encoding": {
    "y": {
     "field": "Nm", "type": "quantitative",
     "scale": {"domain": [0, 220], "nice": false},
     "axis": {
      "title": "Tork (Nm)", "orient": "left", "offset": 3,
      "values": [0,20,40,60,80,100,120,140,160,180,200,220],
      "tickSize": 6, "labelPadding": 4, "labelOverlap": false, "grid": false,
      "titlePadding": 7
     }
    },
    "strokeWidth": {
     "field": "yakit", "type": "nominal",
     "scale": {"domain": ["BENZİN", "LPG"], "range": [1.1, 2.6]},
     "legend": null
    }
   }
  }
 ],
 "resolve": {"scale": {"y": "independent"}}
}
